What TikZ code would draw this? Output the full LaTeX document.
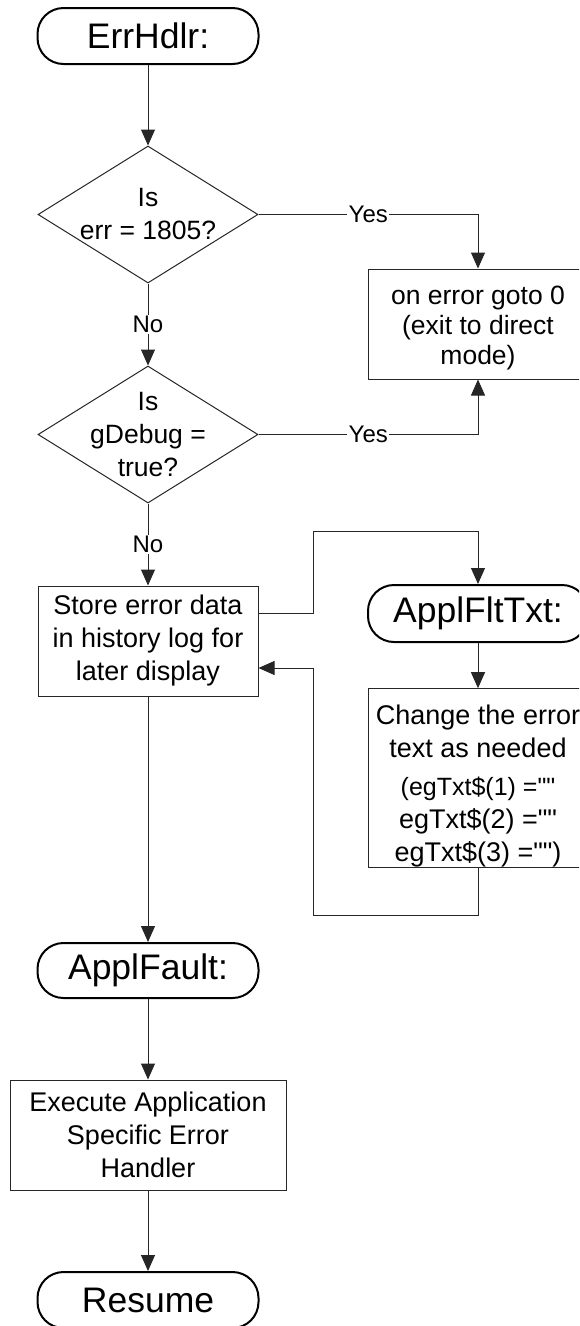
\documentclass[tikz,border=0pt]{standalone}
\usepackage{fontspec}
\setmainfont{Liberation Sans}[Ligatures=TeXOff]
\usetikzlibrary{arrows.meta,shapes.geometric}
\begin{document}
\begin{tikzpicture}[x=1pt,y=-1pt,
  term/.style={draw=black,line width=2pt,rounded corners=26pt,minimum width=221pt,minimum height=56pt,inner sep=0pt,font=\fontsize{35.5}{40}\selectfont},
  procbox/.style={draw=black!85,line width=1pt,minimum width=220pt,minimum height=110pt,inner sep=0pt,align=center,font=\fontsize{27}{33}\selectfont},
  decision/.style={draw=black!85,line width=1pt,shape=diamond,minimum width=220pt,minimum height=137pt,inner sep=0pt},
  dtext/.style={align=center,inner sep=0pt,font=\fontsize{26.5}{33}\selectfont},
  conn/.style={draw=black!85,line width=1pt},
  arr/.style={conn,-{Triangle[length=16pt,width=14pt]}},
  lbl/.style={fill=white,inner sep=1.5pt,font=\fontsize{24}{28}\selectfont}]
\clip (0,0) rectangle (579,1326);
\fill[white] (0,0) rectangle (579,1326);
% nodes
\node[term] (errhdlr) at (148,36) {ErrHdlr:};
\node[decision,label={[dtext]center:{Is\\err = 1805?}}] (d1) at (148,214.5) {};
\node[procbox,font=\fontsize{26.5}{30}\selectfont] (onerr) at (478,324) {\rule{0pt}{27pt}on error goto 0\\(exit to direct\\mode)};
\node[decision,label={[dtext]center:{Is\\gDebug =\\true?}}] (d2) at (148,434.5) {};
\node[procbox] (store) at (148,641) {Store error data\\in history log for\\later display};
\node[term,minimum width=220pt,minimum height=57pt] (flt) at (478,613.5) {ApplFltTxt:};
\node[procbox,minimum height=166pt] (change) at (478,778) {\rule{0pt}{36pt}Change the error\\text as needed\\[5pt]\fontsize{25}{28}\selectfont (egTxt\$(1) =""\\egTxt\$(2) =""\\egTxt\$(3) ="")};
\node[term,minimum height=55pt] (fault) at (148,970.5) {ApplFault:};
\node[procbox,minimum width=276pt] (exec) at (148,1135) {Execute Application\\Specific Error\\Handler};
\node[term] (resume) at (148,1300) {Resume};
% helper coordinates
\coordinate (lpA) at (313,613);
\coordinate (lpB) at (313,531);
\coordinate (rtA) at (313,915);
\coordinate (rtB) at (313,668);
% connectors
\draw[arr] (errhdlr.south) -- (d1.north);
\draw[arr] (d1.east) -| node[lbl,pos=0.25]{Yes} (onerr.north);
\draw[arr] (d2.east) -| node[lbl,pos=0.25]{Yes} (onerr.south);
\draw[arr] (d1.south) -- node[lbl]{No} (d2.north);
\draw[arr] (d2.south) -- node[lbl]{No} (store.north);
\draw[arr] (store.east |- lpA) -- (lpA) -- (lpB) -| (flt.north);
\draw[arr] (flt.south) -- (change.north);
\draw[arr] (change.south) -- (change.south |- rtA) -- (rtA) -- (rtB) -- (store.east |- rtB);
\draw[arr] (store.south) -- (fault.north);
\draw[arr] (fault.south) -- (exec.north);
\draw[arr] (exec.south) -- (resume.north);
\end{tikzpicture}
\end{document}
